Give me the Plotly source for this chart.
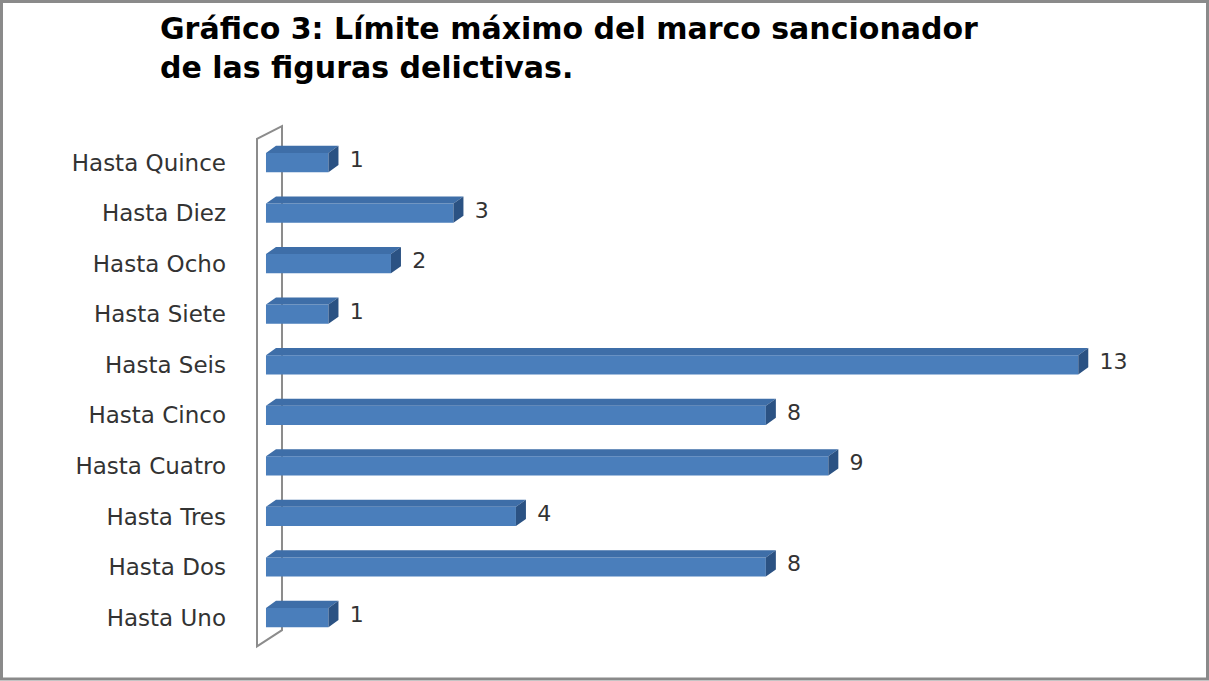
import plotly.graph_objects as go

categories = ["Hasta Uno", "Hasta Dos", "Hasta Tres", "Hasta Cuatro", "Hasta Cinco",
              "Hasta Seis", "Hasta Siete", "Hasta Ocho", "Hasta Diez", "Hasta Quince"]
values = [1, 8, 4, 9, 8, 13, 1, 2, 3, 1]
title_text = "Gráfico 3: Límite máximo del marco sancionador<br>de las figuras delictivas."

W, H = 1209, 681
ML, MR, MT, MB = 241, 12, 112, 22.5
XR = [-0.4, 14.9]
YR = [-0.8, 10.0]

BW = 0.38   # bar thickness (category units)
DX = 0.16   # depth offset x (value units)
DY = 0.14   # depth offset y (category units)

FRONT = "#4A7EBB"
TOP = "#3E6EA8"
SIDE = "#2B5283"

idx = list(range(len(categories)))

fig = go.Figure()

# wall
fig.add_shape(type="path",
              path="M -0.144,-0.57 L -0.144,9.47 L 0.256,9.72 L 0.256,-0.25 Z",
              xref="x", yref="y", line=dict(color="#8C8C8C", width=2),
              fillcolor="rgba(255,255,255,0)", layer="below")

# front faces
fig.add_trace(go.Bar(y=idx, x=values, orientation="h", width=BW,
                     marker=dict(color=FRONT, line=dict(width=0)),
                     hoverinfo="skip", showlegend=False))

# top and side faces
tx, ty, sx, sy = [], [], [], []
for i, v in zip(idx, values):
    t = i + BW / 2
    b = i - BW / 2
    tx += [0, v, v + DX, DX, 0, None]
    ty += [t, t, t + DY, t + DY, t, None]
    sx += [v, v + DX, v + DX, v, v, None]
    sy += [b, b + DY, t + DY, t, b, None]

fig.add_trace(go.Scatter(x=tx, y=ty, fill="toself", fillcolor=TOP, mode="lines",
                         line=dict(width=0, color=TOP), hoverinfo="skip", showlegend=False))
fig.add_trace(go.Scatter(x=sx, y=sy, fill="toself", fillcolor=SIDE, mode="lines",
                         line=dict(width=0, color=SIDE), hoverinfo="skip", showlegend=False))

# value labels
fig.add_trace(go.Scatter(x=[v + DX + 0.18 for v in values], y=[i + 0.02 for i in idx],
                         mode="text", text=[str(v) for v in values],
                         textposition="middle right",
                         textfont=dict(family="DejaVu Sans", size=22, color="#333333"),
                         hoverinfo="skip", showlegend=False))

pw = W - ML - MR
ph = H - MT - MB
# outer border
fig.add_shape(type="rect", xref="paper", yref="paper",
              x0=(1.5 - ML) / pw, x1=(W - 1.5 - ML) / pw,
              y0=-(MB - 1.5) / ph, y1=1 + (MT - 1.5) / ph,
              line=dict(color="#8A8A8A", width=3))

fig.add_annotation(text=title_text, xref="paper", yref="paper",
                   x=(158 - ML) / pw, y=1 + (MT - 9) / ph,
                   xanchor="left", yanchor="top", align="left", showarrow=False,
                   font=dict(family="DejaVu Sans", size=30, color="black", weight="bold"))

fig.update_layout(
    width=W, height=H,
    margin=dict(l=ML, r=MR, t=MT, b=MB, pad=0),
    paper_bgcolor="white", plot_bgcolor="white",
    xaxis=dict(range=XR, showgrid=False, zeroline=False, showticklabels=False,
               showline=False, ticks="", fixedrange=True),
    yaxis=dict(range=YR, tickmode="array", tickvals=idx, ticktext=categories,
               showgrid=False, zeroline=False, showline=False, ticks="",
               ticklabelstandoff=14, fixedrange=True,
               tickfont=dict(family="DejaVu Sans", size=23, color="#333333")),
)

fig.write_html("out.html", config={"displayModeBar": False},
               post_script="document.body.style.margin='0';document.body.style.overflow='hidden';")
